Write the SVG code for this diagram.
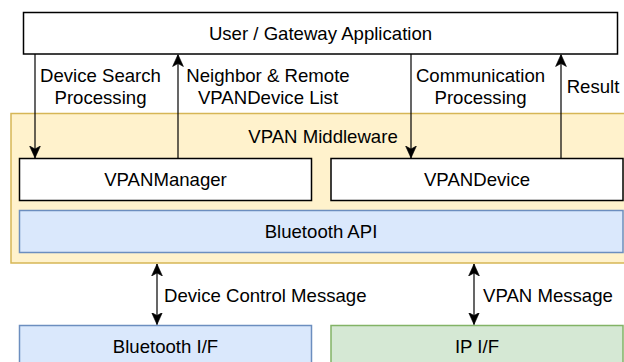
<svg xmlns="http://www.w3.org/2000/svg" width="624" height="362" viewBox="0 0 624 362">
<defs>
<style>
text{font-family:"Liberation Sans",Arial,Helvetica,sans-serif;font-size:18.6px;fill:#000;}
.c{text-anchor:middle;}
.w{fill:#fff;stroke:#000;stroke-width:1.5;}
.y{fill:#fff2cc;stroke:#d6b656;stroke-width:1.5;}
.b{fill:#dae8fc;stroke:#6c8ebf;stroke-width:1.5;}
.g{fill:#d5e8d4;stroke:#82b366;stroke-width:1.5;}
.e{fill:none;stroke:#000;stroke-width:1.2;}
</style>
<marker id="ah" markerUnits="userSpaceOnUse" markerWidth="12" markerHeight="12" viewBox="0 0 10 10" refX="10" refY="5" orient="auto-start-reverse">
<path d="M0,0.5 L10,5 L0,9.5 L2.5,5 Z" fill="#000" stroke="#000" stroke-width="0.5"/>
</marker>
</defs>
<g id="app"><rect class="w" x="23.5" y="12.5" width="594" height="41.5"/><text class="c" x="320.5" y="40">User / Gateway Application</text></g>
<g id="middleware"><rect class="y" x="11" y="113.5" width="624" height="149.5"/><text class="c" x="323" y="143">VPAN Middleware</text></g>
<g id="vpanmanager"><rect class="w" x="19.5" y="158.5" width="292" height="42"/><text class="c" x="165.5" y="186">VPANManager</text></g>
<g id="vpandevice"><rect class="w" x="331" y="158.5" width="292" height="42"/><text class="c" x="477" y="186">VPANDevice</text></g>
<g id="btapi"><rect class="b" x="19.5" y="210.5" width="603.5" height="42"/><text class="c" x="321" y="238">Bluetooth API</text></g>
<g id="btif"><rect class="b" x="19.5" y="325.5" width="292" height="42"/><text class="c" x="165.5" y="353">Bluetooth I/F</text></g>
<g id="ipif"><rect class="g" x="331" y="325.5" width="292" height="42"/><text class="c" x="477" y="353">IP I/F</text></g>
<g id="connectors">
<line class="e" x1="35" y1="54" x2="35" y2="158" marker-end="url(#ah)"/>
<line class="e" x1="178" y1="158.5" x2="178" y2="54.5" marker-end="url(#ah)"/>
<line class="e" x1="411" y1="54" x2="411" y2="158" marker-end="url(#ah)"/>
<line class="e" x1="561" y1="158.5" x2="561" y2="54.5" marker-end="url(#ah)"/>
<line class="e" x1="157" y1="264" x2="157" y2="324.5" marker-start="url(#ah)" marker-end="url(#ah)"/>
<line class="e" x1="474" y1="264" x2="474" y2="324.5" marker-start="url(#ah)" marker-end="url(#ah)"/>
<text class="c" x="100.5" y="82">Device Search</text>
<text class="c" x="100.5" y="104">Processing</text>
<text class="c" x="268" y="82">Neighbor &amp; Remote</text>
<text class="c" x="268" y="104">VPANDevice List</text>
<text class="c" x="480.5" y="82">Communication</text>
<text class="c" x="480.5" y="104">Processing</text>
<text class="c" x="593" y="93">Result</text>
<text x="164" y="302">Device Control Message</text>
<text x="483" y="302">VPAN Message</text>
</g>
</svg>
